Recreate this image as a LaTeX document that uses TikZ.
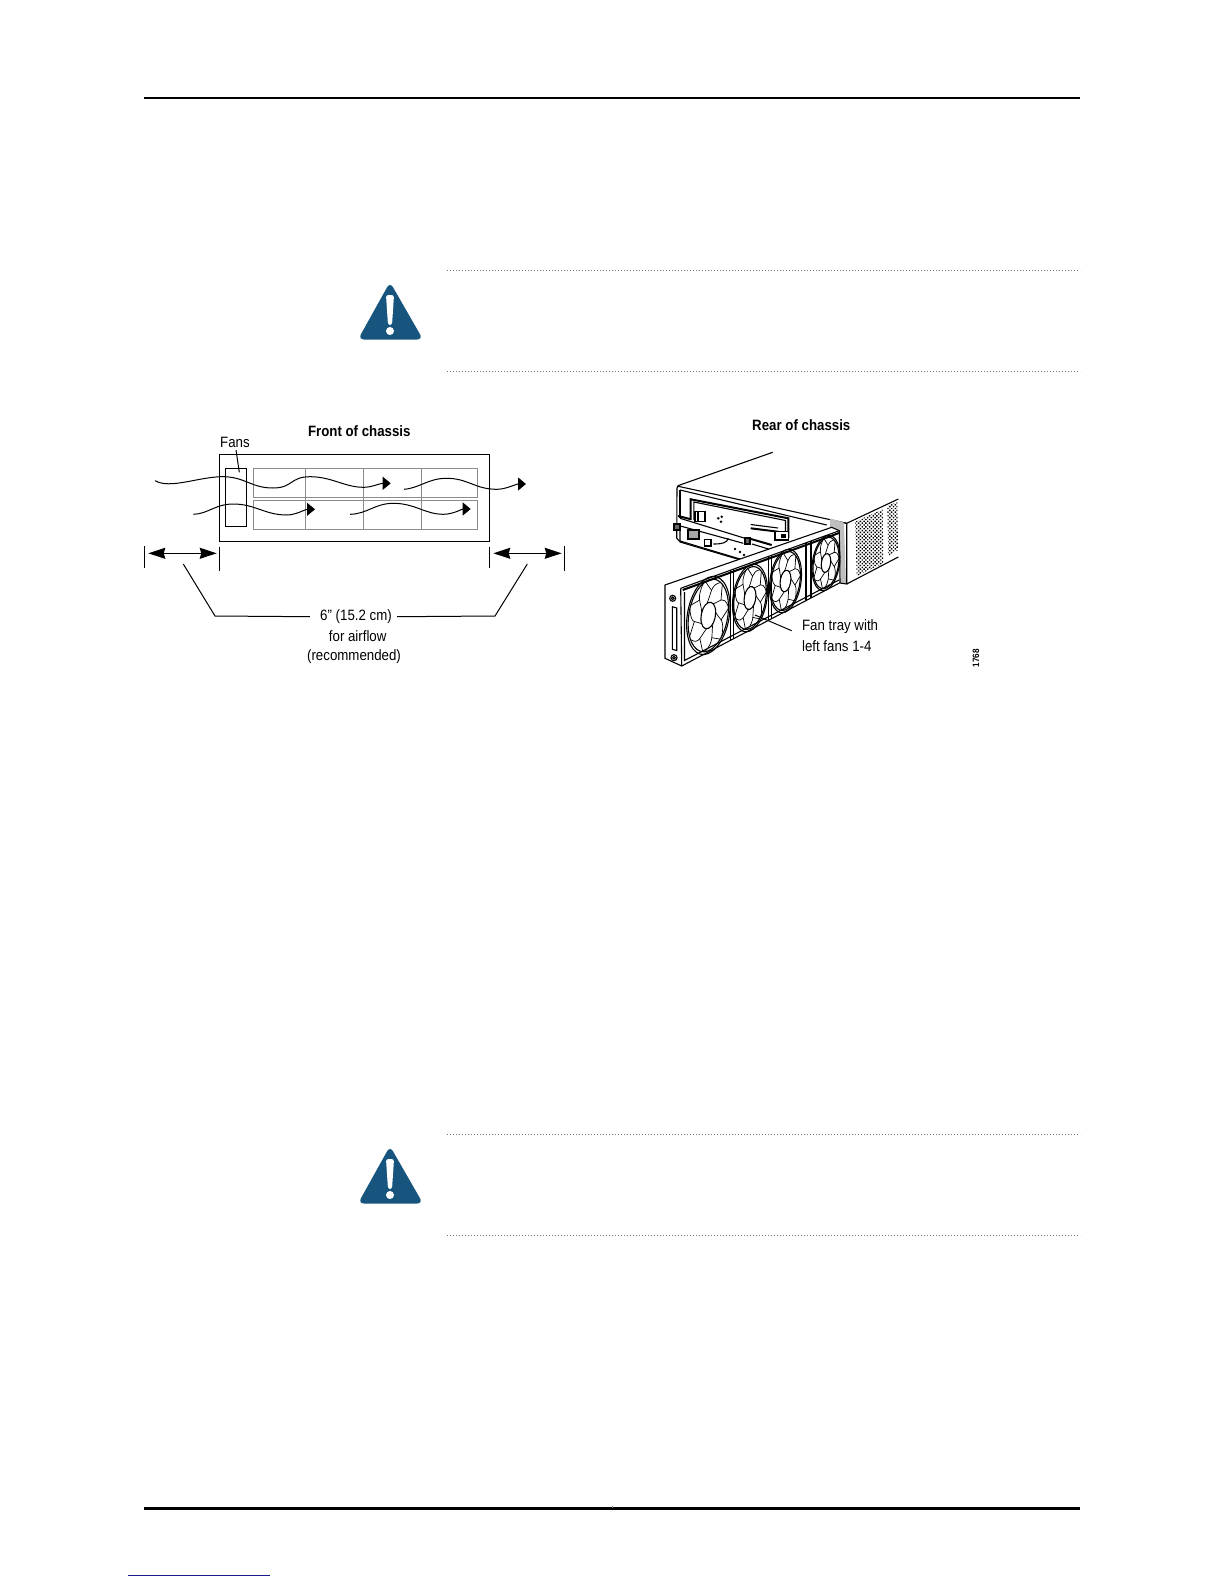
\documentclass[tikz,border=0pt]{standalone}
\usepackage{fontspec}
\setmainfont[FakeStretch=0.885]{Liberation Sans}
\usetikzlibrary{arrows.meta, patterns.meta}
\definecolor{warnblue}{HTML}{17557F}
\definecolor{linkblue}{HTML}{1A1A8C}
\tikzset{
pagerule/.style={line width=1.1pt},
dotrule/.style={black!55, line width=.5pt, dash pattern=on .6pt off .9pt},
label/.style={font=\fontsize{7.5}{9}\selectfont, inner sep=0pt},
title/.style={font=\fontsize{7.5}{9}\selectfont\bfseries, inner sep=0pt},
slot/.style={black!45, line width=.55pt},
box/.style={line width=.65pt},
airflow/.style={line width=.5pt, -{Triangle[length=4pt,width=6.5pt]}},
span/.style={line width=.55pt, {Stealth[length=8.5pt,width=5.5pt,inset=.8pt]}-{Stealth[length=8.5pt,width=5.5pt,inset=.8pt]}},
leader/.style={line width=.5pt},
sketch/.style={line width=.55pt},
heavy/.style={line width=1pt},
vent/.style={pattern={Dots[distance=1.3pt,radius=.5pt,angle=45]}, pattern color=black}
}
\begin{document}
\begin{tikzpicture}[x=.5pt,y=-.5pt]
\useasboundingbox (0,0) rectangle (1224,1584);
\draw [pagerule] (144,98) -- (1080,98);
\draw [pagerule] (144,1508.5) -- (1080,1508.5);
\draw [black!50, line width=.3pt] (612,1506) -- (612,1508);
\draw [linkblue, line width=.6pt] (128,1575.3) -- (269.5,1575.3);
\draw [dotrule] (447,270.5) -- (1080,270.5);
\draw [dotrule] (447,371.5) -- (1080,371.5);
\draw [dotrule] (447,1134.5) -- (1080,1134.5);
\draw [dotrule] (447,1235.5) -- (1080,1235.5);
\fill [warnblue, rounded corners=3pt] (390,282) -- (423,339.5) -- (358,339.5) -- cycle;
\fill [white, rounded corners=1.2pt] (386,295) -- (394,295) -- (392,325) -- (388,325) -- cycle;
\fill [white] (390,331) circle (2pt);
\fill [warnblue, rounded corners=3pt] (390,1146) -- (423,1203.5) -- (358,1203.5) -- cycle;
\fill [white, rounded corners=1.2pt] (386,1159) -- (394,1159) -- (392,1189) -- (388,1189) -- cycle;
\fill [white] (390,1195) circle (2pt);
\node (fronttitle) at (359.3,431.3) [title] {Front of chassis};
\node (fanslabel) at (235,442.3) [label] {Fans};
\coordinate (fanstip) at (239.3,472.3);
\draw [leader] (fanslabel.south) ++(1,2) -- (fanstip);
\draw [slot] (253.3,468.3) rectangle (477.7,497.3);
\draw [slot] (253.3,500.3) rectangle (477.7,529.3);
\draw [slot] (305.7,468.3) -- (305.7,529.3);
\draw [slot] (363.3,468.3) -- (363.3,529.3);
\draw [slot] (421.7,468.3) -- (421.7,529.3);
\draw [box] (219.3,454.3) rectangle (489.3,541.3);
\draw [box] (225.7,468.3) rectangle (246.7,526.7);
\draw [airflow] (155,480.7) .. controls (170,489) and (195,478) .. (220,476.7) .. controls (245,476) and (250,488) .. (273,488) .. controls (293,488) and (290,476.7) .. (310,476.7) .. controls (332,476.7) and (345,487.5) .. (364,487.3) .. controls (372,487.2) and (380,483.3) .. (390.7,483.3);
\draw [airflow] (404,489.3) .. controls (420,488) and (428,478.3) .. (446.7,478.3) .. controls (468,478.3) and (475,489.3) .. (496.7,489.3) .. controls (506,489.3) and (516,484) .. (526,484);
\draw [airflow] (193.3,514.3) .. controls (208,514) and (215,504) .. (233.3,504) .. controls (255,504) and (265,515) .. (286.7,515) .. controls (296,515) and (305,509.3) .. (315,509.3);
\draw [airflow] (350,514.3) .. controls (367,514) and (375,503.3) .. (393.3,503.3) .. controls (415,503.3) and (425,514.3) .. (443.3,514.3) .. controls (453,514.3) and (462,509) .. (470.7,509);
\coordinate (tickaa) at (144.3,546);
\coordinate (tickab) at (144.3,568.3);
\coordinate (tickba) at (219.3,546.7);
\coordinate (tickbb) at (219.3,570.7);
\coordinate (tickca) at (489.3,546.7);
\coordinate (tickcb) at (489.3,568.3);
\coordinate (tickda) at (564.3,546);
\coordinate (tickdb) at (564.3,570.7);
\draw [leader] (tickaa) -- (tickab);
\draw [leader] (tickba) -- (tickbb);
\draw [leader] (tickca) -- (tickcb);
\draw [leader] (tickda) -- (tickdb);
\coordinate (spanal) at (148.3,553.3);
\coordinate (spanar) at (216.7,553.3);
\coordinate (spanbl) at (493.3,553.3);
\coordinate (spanbr) at (561.7,553.3);
\draw [span] (spanal) -- (spanar);
\draw [span] (spanbl) -- (spanbr);
\node (gaplabel) at (356,616.7) [label] {6" (15.2 cm)};
\node (airlabel) at (357.7,636) [label] {for airflow};
\node (reclabel) at (354,657) [label] {(recommended)};
\coordinate (gapla) at (183.3,564);
\coordinate (gaplb) at (215,616);
\coordinate (gapra) at (527.3,564);
\coordinate (gaprb) at (495,616);
\draw [leader] (gapla) -- (gaplb) -- ([xshift=-5pt]gaplabel.west);
\draw [leader] (gapra) -- (gaprb) -- ([xshift=2.5pt]gaplabel.east);
\node (reartitle) at (801.3,425.3) [title] {Rear of chassis};
\draw [sketch, rounded corners=1pt] (772.7,452.3) -- (677,486) -- (676.7,540) -- (743.3,560);
\draw [sketch] (677,486) -- (846.7,523.3);
\draw [sketch] (680,490) -- (826.7,525);
\draw [sketch] (680,490) -- (680,518.3);
\draw [heavy] (690.7,520) -- (690.7,499.3) -- (788.3,518.3) -- (788.3,538);
\draw [sketch] (693.8,520) -- (693.8,502) -- (785.5,520.5) -- (785.5,533);
\draw [sketch, fill=white] (695,511.7) rectangle (705,521.7);
\draw [heavy] (698,512) -- (698,521);
\fill (718.3,518.3) circle (.7pt);
\fill (721.7,516.7) circle (.7pt);
\fill (721,521.7) circle (.7pt);
\draw [sketch] (680,518.3) -- (745,538.3);
\draw [sketch] (676.7,525) -- (743.3,543.3);
\draw [heavy] (678,516) -- (690,519);
\draw [sketch, fill=black!60] (674,524) rectangle (680,530);
\draw [sketch, fill=black!35] (688,530) rectangle (699,539);
\draw [sketch] (680,531) -- (680,542) -- (744,561);
\draw [sketch] (704.3,539.3) rectangle (711,546);
\draw [sketch] (713.3,544) .. controls (722,544) and (727,543) .. (728.3,538.3);
\fill (735,549) circle (.7pt);
\fill (740,552) circle (.7pt);
\fill (744,555) circle (.7pt);
\draw [heavy] (750.7,528.3) -- (778,531.7);
\draw [sketch] (750.7,524.5) -- (778,528);
\draw [sketch, fill=white] (775,531.7) rectangle (788.3,540);
\fill (781,534) rectangle (786,538);
\draw [sketch, fill=black!60] (745,538) rectangle (750,544);
\draw [heavy] (751,539) -- (771.7,545);
\draw [sketch] (752,544) -- (771.7,550);
\fill [black!25] (830,518.3) -- (844,522.7) -- (846,583.3) -- (840,583) -- (840,531) -- (830,527) -- cycle;
\draw [sketch] (844,522.7) -- (846.7,523.3) -- (898.3,499);
\draw [sketch] (846.7,523.3) -- (846.7,584) -- (840,583);
\draw [sketch] (846.7,584) -- (898.3,557);
\fill [vent] (855,521.7) -- (882.7,509.3) -- (883.3,563.3) -- (856.7,576) -- cycle;
\fill [vent] (887.3,506) -- (897.3,501.7) -- (898,550) -- (888.3,556) -- cycle;
\draw [sketch, fill=white] (665,585) -- (831.7,527.3) -- (839.3,530.7) -- (840,582.7) -- (681.7,666) -- (665,658.3) -- cycle;
\draw [sketch] (680.7,588.3) -- (839.3,530.7);
\draw [sketch] (680.7,588.3) -- (681.7,666);
\draw [heavy] (682.7,590) -- (839,533);
\draw [sketch] (684.5,592) -- (684.5,660.5) -- (839,580);
\draw [sketch] (730.7,570.2) -- (730.7,640.2);
\draw [sketch] (733.5,569.2) -- (733.5,638.7);
\draw [sketch] (768.3,556.5) -- (768.3,620.3);
\draw [sketch] (771.1,555.5) -- (771.1,618.8);
\draw [sketch] (806,542.8) -- (806,600.7);
\draw [sketch] (811,541) -- (811,598.2);
\draw [sketch] (672.7,598.3) circle (3);
\draw [sketch] (672.7,598.3) circle (1.4);
\draw [sketch] (674,657.7) circle (3);
\draw [sketch] (674,657.7) circle (1.4);
\draw [sketch] (672.3,606.7) -- (676.7,608) -- (676.7,650.5) -- (672.3,649.3) -- cycle;
\foreach \fanx/\fany/\fanrx/\fanry in {708.3/615.5/21.7/38, 750/598/17.5/33, 785.5/581/16/31, 826/563/14/27}
{
\begin{scope}[shift={(\fanx,\fany)}, yslant=.42, xscale=\fanrx, yscale=\fanry]
\draw [sketch] (0,0) circle (1);
\draw [sketch] (0,0) circle (.93);
\draw [sketch] (0,0) circle (.34);
\foreach \bladeang in {0,52,...,312}
{
\draw [sketch, line width=.35pt] (\bladeang:.34) .. controls (\bladeang+25:.58) and (\bladeang+18:.8) .. (\bladeang+48:.93);
\draw [sketch, line width=.35pt] (\bladeang+24:.64) -- (\bladeang+2:.93);
}
\end{scope}
}
\coordinate (traytip) at (755,615);
\coordinate (trayend) at (791.7,630.7);
\node (traylabela) at (801.7,626.7) [label, anchor=west] {Fan tray with};
\node (traylabelb) at (801.7,646) [label, anchor=west] {left fans 1-4};
\draw [leader] (traytip) -- (trayend);
\node (figlabel) at (976,658.3) [font=\fontsize{4.6}{5}\selectfont\bfseries, inner sep=0pt, rotate=90] {1768};
\end{tikzpicture}
\end{document}
